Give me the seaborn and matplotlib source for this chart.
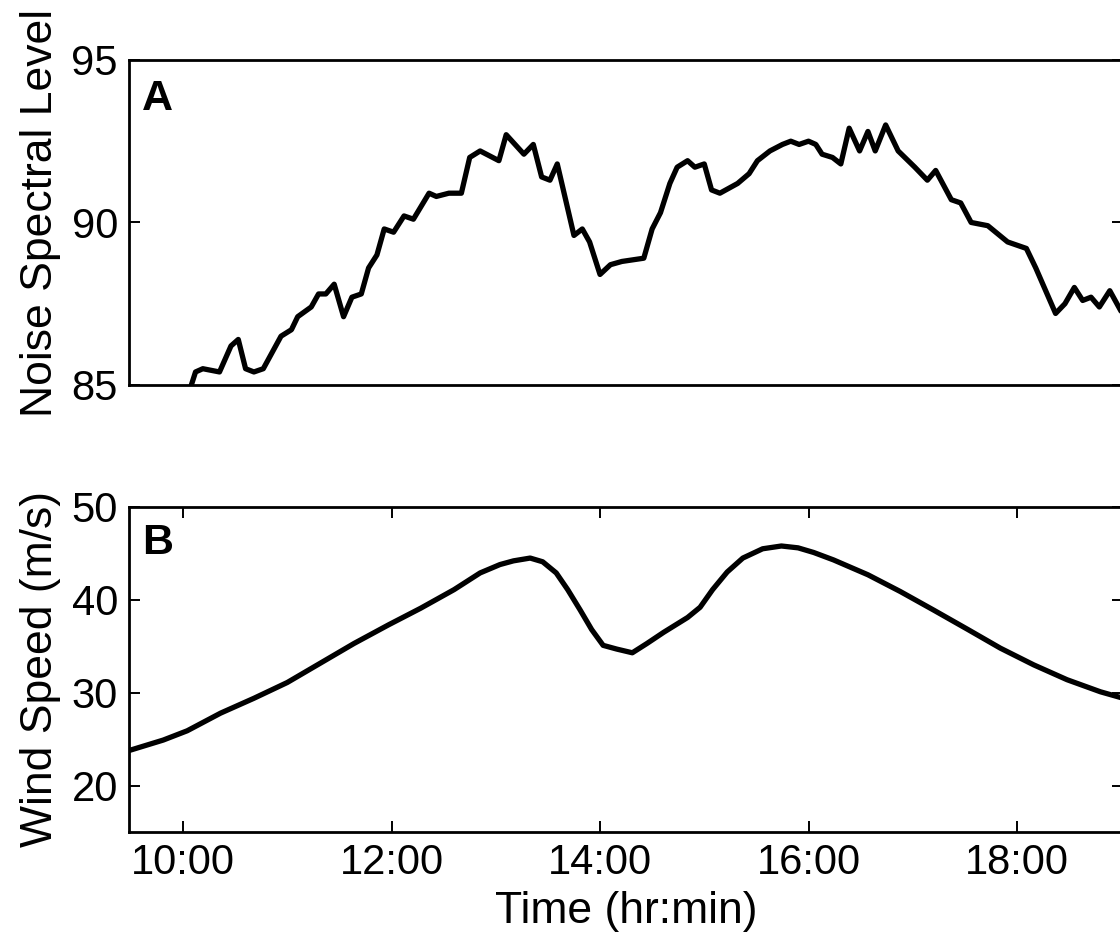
import numpy as np
import matplotlib
matplotlib.use("Agg")
import matplotlib.pyplot as plt
import seaborn as sns

# panel A: noise spectral level vs time (hours)
noise_time = [10.08, 10.12, 10.19, 10.35, 10.46, 10.53, 10.60, 10.68, 10.77, 10.94,
              11.04, 11.10, 11.23, 11.30, 11.37, 11.45, 11.54, 11.62, 11.71, 11.78,
              11.86, 11.93, 12.02, 12.12, 12.21, 12.36, 12.43, 12.55, 12.67, 12.75,
              12.85, 13.03, 13.10, 13.27, 13.36, 13.44, 13.52, 13.59, 13.75, 13.83,
              13.90, 14.00, 14.10, 14.21, 14.42, 14.50, 14.58, 14.67, 14.74, 14.84,
              14.91, 15.00, 15.07, 15.15, 15.32, 15.43, 15.51, 15.63, 15.75, 15.83,
              15.91, 16.00, 16.07, 16.13, 16.23, 16.31, 16.39, 16.49, 16.57, 16.64,
              16.74, 16.86, 17.02, 17.14, 17.22, 17.37, 17.46, 17.56, 17.72, 17.91,
              18.09, 18.18, 18.37, 18.46, 18.55, 18.63, 18.71, 18.79, 18.89, 19.01]
noise_level = [85.0, 85.4, 85.5, 85.4, 86.2, 86.4, 85.5, 85.4, 85.5, 86.5,
               86.7, 87.1, 87.4, 87.8, 87.8, 88.1, 87.1, 87.7, 87.8, 88.6,
               89.0, 89.8, 89.7, 90.2, 90.1, 90.9, 90.8, 90.9, 90.9, 92.0,
               92.2, 91.9, 92.7, 92.1, 92.4, 91.4, 91.3, 91.8, 89.6, 89.8,
               89.4, 88.4, 88.7, 88.8, 88.9, 89.8, 90.3, 91.2, 91.7, 91.9,
               91.7, 91.8, 91.0, 90.9, 91.2, 91.5, 91.9, 92.2, 92.4, 92.5,
               92.4, 92.5, 92.4, 92.1, 92.0, 91.8, 92.9, 92.2, 92.8, 92.2,
               93.0, 92.2, 91.7, 91.3, 91.6, 90.7, 90.6, 90.0, 89.9, 89.4,
               89.2, 88.6, 87.2, 87.5, 88.0, 87.6, 87.7, 87.4, 87.9, 87.2]

# panel B: wind speed (m/s) vs time (hours)
wind_time = [9.49, 9.81, 10.04, 10.36, 10.68, 11.00, 11.32, 11.64, 11.97, 12.28,
             12.60, 12.85, 13.04, 13.17, 13.33, 13.45, 13.58, 13.69, 13.81, 13.92,
             14.03, 14.16, 14.31, 14.45, 14.61, 14.84, 14.96, 15.08, 15.22, 15.37,
             15.56, 15.74, 15.90, 16.05, 16.24, 16.57, 16.88, 17.20, 17.53, 17.84,
             18.16, 18.48, 18.80, 19.02]
wind_speed = [23.8, 24.9, 25.9, 27.8, 29.4, 31.1, 33.2, 35.3, 37.3, 39.1,
              41.1, 42.9, 43.8, 44.2, 44.5, 44.1, 42.9, 41.1, 38.9, 36.8,
              35.1, 34.7, 34.3, 35.3, 36.5, 38.1, 39.2, 41.1, 43.0, 44.5,
              45.5, 45.8, 45.6, 45.1, 44.3, 42.7, 40.9, 38.9, 36.8, 34.8,
              33.0, 31.4, 30.1, 29.4]

time_ticks = [10, 12, 14, 16, 18]
time_labels = ["10:00", "12:00", "14:00", "16:00", "18:00"]

sns.set_theme(style="ticks")
plt.rcParams['font.family'] = ['Liberation Sans', 'DejaVu Sans']
plt.rcParams['axes.linewidth'] = 2.0

fig = plt.figure(figsize=(11.2, 9.38), dpi=100)
ax_a = fig.add_axes([0.1152, 0.5896, 0.8875, 0.3465])
ax_b = fig.add_axes([0.1152, 0.1130, 0.8875, 0.3465])

sns.lineplot(x=noise_time, y=noise_level, ax=ax_a, color="black",
             linewidth=3.8, estimator=None)
sns.lineplot(x=wind_time, y=wind_speed, ax=ax_b, color="black",
             linewidth=3.8, estimator=None)

for ax in (ax_a, ax_b):
    ax.set_xlim(9.482, 19.017)
    ax.tick_params(direction="in", length=8, width=1.4, labelsize=30,
                   pad=8, right=True, top=True, colors="black")
    for sp in ax.spines.values():
        sp.set_color("black")
        sp.set_linewidth(2.0)

ax_a.set_ylim(85, 95)
ax_a.set_yticks([85, 90, 95])
ax_a.set_xticks([])
ax_a.set_ylabel("Noise Spectral Level", fontsize=32, color="black")
ax_a.yaxis.set_label_coords(-0.068, 0.53)
ax_a.text(0.013, 0.94, "A", transform=ax_a.transAxes, fontsize=31,
          fontweight="bold", ha="left", va="top", color="black")

ax_b.set_ylim(15, 50)
ax_b.set_yticks([20, 30, 40, 50])
ax_b.set_xticks(time_ticks)
ax_b.set_xticklabels(time_labels)
ax_b.set_ylabel("Wind Speed (m/s)", fontsize=32, color="black")
ax_b.yaxis.set_label_coords(-0.068, 0.5)
ax_b.set_xlabel("Time (hr:min)", fontsize=32, color="black")
ax_b.xaxis.set_label_coords(0.5, -0.18)
ax_b.text(0.013, 0.95, "B", transform=ax_b.transAxes, fontsize=31,
          fontweight="bold", ha="left", va="top", color="black")

fig.savefig("out.png", dpi=100)
